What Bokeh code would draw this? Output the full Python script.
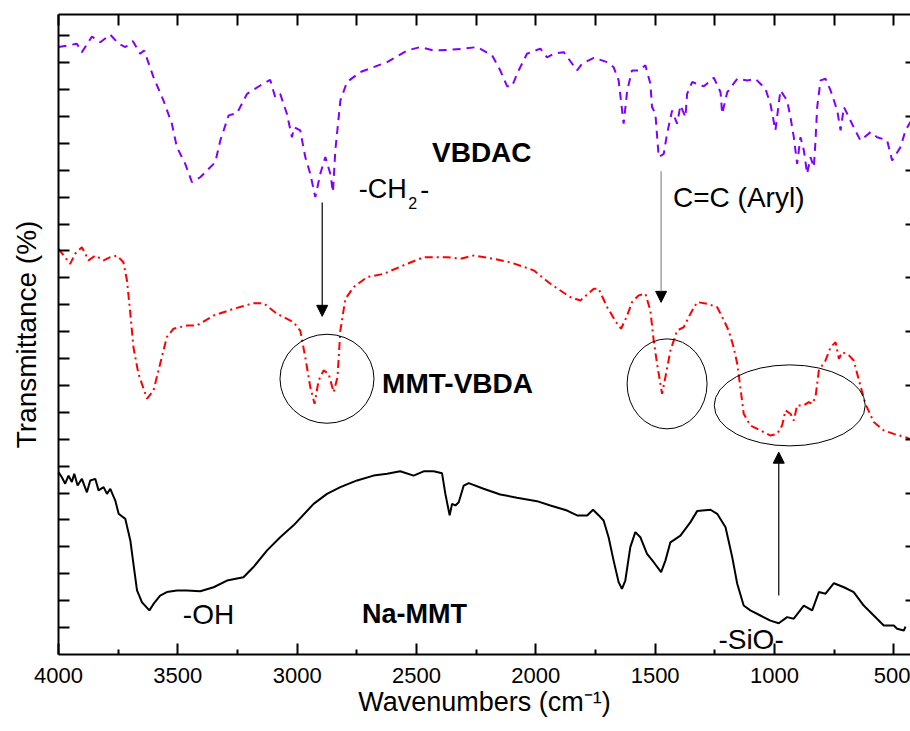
from bokeh.plotting import figure
from bokeh.models import (Range1d, LinearAxis, FixedTicker, Label, Arrow,
                          NormalHead)
from bokeh.embed import file_html
from bokeh.resources import INLINE

# ---------------- data (wavenumber, relative transmittance) ----------------
VBDAC_W = [4000, 3923, 3902, 3860, 3825, 3783, 3748, 3720, 3688, 3658, 3641, 3602,
           3560, 3525, 3504, 3469, 3441, 3406, 3343, 3322, 3287, 3252, 3210, 3155,
           3113, 3092, 3071, 3043, 3022, 3012, 2987, 2966, 2945, 2924, 2903, 2882,
           2861, 2850, 2840, 2819, 2791, 2735, 2623, 2540, 2484, 2428, 2358, 2302,
           2246, 2183, 2149, 2120, 2100, 2072, 2037, 1981, 1953, 1925, 1883, 1827,
           1806, 1757, 1701, 1674, 1653, 1632, 1617, 1597, 1569, 1541, 1520, 1513,
           1499, 1485, 1464, 1450, 1429, 1408, 1394, 1373, 1366, 1345, 1296, 1254,
           1226, 1219, 1198, 1156, 1114, 1080, 1038, 1017, 996, 975, 947, 933, 919,
           905, 891, 877, 863, 849, 835, 828, 821, 807, 786, 765, 737, 723, 709, 668,
           640, 597, 570, 528, 507, 472, 451, 430]
VBDAC_T = [22.58, 22.70, 22.39, 22.97, 22.76, 23.04, 22.70, 22.58, 22.80, 22.33, 22.45, 21.46,
           20.59, 19.73, 18.86, 18.24, 17.56, 17.74, 18.30, 19.11, 20.04, 20.12, 20.84, 21.15,
           21.36, 20.72, 20.84, 20.10, 19.23, 19.60, 19.48, 18.49, 17.87, 17.00, 17.87, 18.49,
           17.87, 17.19, 18.74, 20.59, 21.28, 21.65, 22.02, 22.45, 22.58, 22.45, 22.48, 22.52,
           22.58, 22.27, 21.71, 21.12, 21.12, 21.71, 22.33, 22.52, 22.20, 22.33, 22.39, 21.71,
           21.96, 22.18, 22.02, 21.83, 21.34, 19.73, 20.97, 21.71, 21.71, 21.90, 21.22, 20.35,
           20.10, 18.49, 18.61, 19.36, 20.22, 19.73, 20.41, 19.98, 20.84, 21.28, 21.12, 21.44,
           20.90, 20.10, 20.90, 21.40, 21.34, 21.40, 21.03, 20.47, 19.48, 20.97, 20.59, 19.98, 19.23,
           18.24, 19.23, 18.74, 17.87, 18.49, 18.12, 19.11, 20.35, 21.34, 21.40, 20.97, 20.22, 19.48, 20.35, 19.60,
           19.11, 19.42, 19.23, 19.11, 18.36, 18.86, 19.48, 19.80]

MMT_VBDA_W = [4000, 3951, 3930, 3902, 3874, 3846, 3811, 3783, 3755, 3728, 3713, 3699,
              3686, 3665, 3629, 3602, 3574, 3546, 3518, 3462, 3420, 3350, 3266, 3183,
              3141, 3085, 3015, 2987, 2966, 2945, 2927, 2910, 2889, 2868, 2847, 2831,
              2819, 2798, 2763, 2707, 2638, 2540, 2470, 2372, 2316, 2260, 2177, 2107,
              2009, 1939, 1855, 1813, 1757, 1737, 1701, 1659, 1643, 1617, 1597, 1569,
              1541, 1520, 1506, 1492, 1471, 1457, 1436, 1408, 1380, 1352, 1324, 1282,
              1240, 1212, 1192, 1171, 1156, 1143, 1129, 1101, 1059, 1017, 989, 968,
              954, 933, 919, 905, 877, 856, 842, 828, 814, 786, 765, 744, 730, 716,
              688, 668, 646, 619, 584, 542, 500, 451, 430]
MMT_VBDA_T = [15.08, 14.52, 14.90, 15.14, 14.65, 14.83, 14.65, 14.77, 14.83, 14.58, 13.90, 12.67,
              11.42, 10.43, 9.51, 9.81, 10.81, 11.80, 12.11, 12.23, 12.23, 12.60, 12.85, 13.06,
              13.06, 12.67, 12.35, 12.04, 11.05, 9.94, 9.32, 10.19, 10.56, 10.43, 9.75, 10.31,
              12.04, 13.22, 13.66, 14.03, 14.15, 14.52, 14.77, 14.77, 14.71, 14.83, 14.71, 14.58,
              14.28, 13.78, 13.28, 13.16, 13.60, 13.60, 12.91, 12.29, 12.11, 12.60, 13.10, 13.35,
              13.41, 12.79, 11.67, 10.81, 9.69, 10.31, 11.30, 12.04, 12.17, 12.67, 13.10, 13.04,
              12.91, 12.42, 12.04, 11.42, 10.81, 9.94, 8.95, 8.51, 8.33, 8.14, 8.20, 8.51,
              9.07, 8.95, 8.70, 9.26, 9.26, 9.38, 9.32, 9.57, 10.56, 10.93, 11.42, 11.61, 10.99, 11.24,
              11.12, 10.93, 10.19, 9.32, 8.64, 8.33, 8.20, 8.08, 8.00]

NA_MMT_W = [4000, 3986, 3972, 3958, 3944, 3934, 3920, 3902, 3881, 3867, 3846, 3832,
            3811, 3797, 3783, 3762, 3748, 3720, 3699, 3686, 3671, 3650, 3619, 3602,
            3574, 3546, 3504, 3462, 3406, 3350, 3294, 3225, 3183, 3126, 3071, 3015,
            2931, 2875, 2819, 2749, 2680, 2623, 2568, 2512, 2470, 2428, 2393, 2379,
            2361, 2351, 2337, 2323, 2302, 2281, 2219, 2149, 2079, 1995, 1939, 1869,
            1827, 1785, 1760, 1736, 1716, 1695, 1674, 1653, 1639, 1625, 1604, 1583,
            1562, 1534, 1506, 1475, 1457, 1436, 1394, 1352, 1324, 1268, 1240, 1205,
            1177, 1156, 1129, 1101, 1059, 1017, 982, 947, 919, 877, 842, 814, 786,
            751, 709, 668, 626, 584, 542, 500, 486, 458, 451]
NA_MMT_T = [6.78, 6.59, 6.35, 6.65, 6.41, 6.72, 6.28, 6.53, 6.03, 6.47, 6.53, 6.10,
            6.22, 5.97, 6.16, 5.72, 5.23, 5.04, 4.24, 3.37, 2.38, 1.94, 1.64, 1.88,
            2.19, 2.32, 2.38, 2.38, 2.35, 2.50, 2.75, 2.87, 3.25, 3.87, 4.36, 4.80,
            5.60, 5.97, 6.22, 6.47, 6.65, 6.72, 6.81, 6.65, 6.81, 6.81, 6.74, 5.97,
            5.17, 5.60, 5.54, 5.66, 6.28, 6.37, 6.16, 5.95, 5.83, 5.70, 5.54, 5.35,
            5.17, 5.17, 5.38, 5.17, 4.98, 4.36, 3.49, 2.69, 2.44, 2.75, 3.99, 4.55,
            4.36, 3.74, 3.43, 3.06, 3.49, 4.17, 4.42, 4.92, 5.33, 5.38, 5.23, 4.73,
            3.62, 2.63, 1.82, 1.64, 1.45, 1.26, 1.16, 1.39, 1.33, 1.82, 1.64, 2.32, 2.26,
            2.65, 2.50, 2.32, 1.82, 1.45, 1.08, 1.08, 0.96, 0.89, 1.04]

X_MAJOR_TICKS = [4000, 3500, 3000, 2500, 2000, 1500, 1000, 500]
X_MINOR_TICKS = [3750, 3250, 2750, 2250, 1750, 1250, 750]
X_TOP_TICKS = [4000, 3750, 3500, 3250, 3000, 2750, 2500, 2250, 2000, 1750, 1500, 1250, 1000, 750, 500]
Y_LEFT_TICKS = list(range(1, 24))
Y_RIGHT_TICKS = list(range(2, 24, 2))

X_TITLE = "Wavenumbers (cm\u207b\u00b9)"
Y_TITLE = "Transmittance (%)"

# ---------------- annotations ----------------
ELLIPSES = [  # (x, y, width px, height px)
    (2875, 10.25, 94, 89),
    (1450, 10.06, 80, 90),
    (936, 9.26, 151, 81),
]
ARROWS = [  # (x, y_start, y_end, line colour)
    (2895, 16.80, 12.57, "black"),
    (1475, 17.96, 13.09, "#8a8a8a"),
    (982, 2.19, 7.52, "black"),
]
LABELS = [  # (x, y, text, size, style)
    (2435, 18.67, "VBDAC", "28px", "bold"),
    (2742, 17.29, "-CH", "27px", "normal"),
    (2534, 16.78, "2", "16px", "normal"),
    (2484, 17.29, "-", "27px", "normal"),
    (1425, 16.99, "C=C (Aryl)", "28px", "normal"),
    (2644, 10.09, "MMT-VBDA", "28px", "bold"),
    (3479, 1.48, "-OH", "28px", "normal"),
    (2728, 1.51, "Na-MMT", "27px", "bold"),
    (1235, 0.55, "-SiO-", "28px", "normal"),
]

FONT = "Liberation Sans"

p = figure(width=910, height=731, output_backend="svg", toolbar_location=None,
           x_range=Range1d(4000, 430), y_range=Range1d(0, 23.79),
           x_axis_location=None, y_axis_location=None,
           min_border_left=58, min_border_right=0, min_border_top=14, min_border_bottom=77)
p.outline_line_color = None
p.xgrid.visible = False
p.ygrid.visible = False
p.background_fill_color = "white"
p.border_fill_color = "white"

hidden = dict(major_label_text_color=None, major_label_text_font_size="1px",
              major_label_standoff=0)

bottom = LinearAxis(ticker=FixedTicker(ticks=X_MAJOR_TICKS, minor_ticks=X_MINOR_TICKS),
                    major_tick_in=11, major_tick_out=0, minor_tick_in=5, minor_tick_out=0,
                    axis_line_width=2, major_tick_line_width=2, minor_tick_line_width=2,
                    major_label_text_font=FONT, major_label_text_font_size="22px",
                    major_label_text_color="black", major_label_standoff=13,
                    axis_label=X_TITLE, axis_label_text_font=FONT,
                    axis_label_text_font_size="27px", axis_label_text_font_style="normal",
                    axis_label_text_color="black", axis_label_standoff=1)
p.add_layout(bottom, "below")

top = LinearAxis(ticker=FixedTicker(ticks=X_TOP_TICKS),
                 major_tick_in=11, major_tick_out=0, minor_tick_in=0, minor_tick_out=0,
                 axis_line_width=2, major_tick_line_width=2, **hidden)
p.add_layout(top, "above")

left = LinearAxis(ticker=FixedTicker(ticks=Y_LEFT_TICKS),
                  major_tick_in=11, major_tick_out=0, minor_tick_in=0, minor_tick_out=0,
                  axis_line_width=2, major_tick_line_width=2,
                  axis_label=Y_TITLE, axis_label_text_font=FONT,
                  axis_label_text_font_size="28px", axis_label_text_font_style="normal",
                  axis_label_text_color="black", axis_label_standoff=17, **hidden)
p.add_layout(left, "left")

right = LinearAxis(ticker=FixedTicker(ticks=Y_RIGHT_TICKS),
                   major_tick_in=5, major_tick_out=0, minor_tick_in=0, minor_tick_out=0,
                   axis_line_color=None, major_tick_line_width=2, **hidden)
p.add_layout(right, "right")

p.line(VBDAC_W, VBDAC_T, line_color="#8000FF", line_width=2, line_dash="8 6")
p.line(MMT_VBDA_W, MMT_VBDA_T, line_color="#FF0000", line_width=2, line_dash="8 4 2 4")
p.line(NA_MMT_W, NA_MMT_T, line_color="black", line_width=2)

p.ellipse(x=[e[0] for e in ELLIPSES], y=[e[1] for e in ELLIPSES],
          width=[e[2] for e in ELLIPSES], height=[e[3] for e in ELLIPSES],
          width_units="screen", height_units="screen",
          fill_color=None, line_color="black", line_width=1)

for x, y0, y1, col in ARROWS:
    p.add_layout(Arrow(end=NormalHead(size=11, fill_color="black", line_color="black", line_width=1),
                       x_start=x, y_start=y0, x_end=x, y_end=y1,
                       line_color=col, line_width=1.2))

for x, y, t, size, style in LABELS:
    p.add_layout(Label(x=x, y=y, text=t, text_font=FONT, text_font_size=size,
                       text_font_style=style, text_color="black",
                       text_align="left", text_baseline="middle"))

open("out.html", "w").write(file_html(p, INLINE))
